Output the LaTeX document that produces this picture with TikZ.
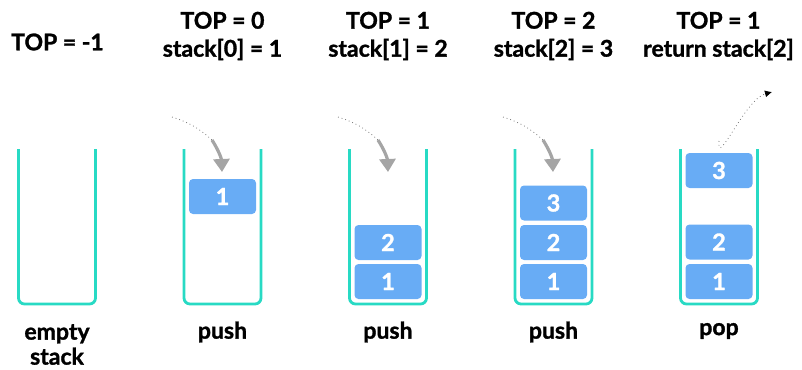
\documentclass[tikz,border=0pt]{standalone}
\usepackage{fontspec}
\setmainfont{Lato}[BoldFeatures={FakeBold=1.3}]
\usetikzlibrary{arrows.meta}
\definecolor{wallc}{RGB}{40,218,196}
\definecolor{boxc}{RGB}{104,172,245}
\definecolor{arrc}{RGB}{165,165,165}
\tikzset{
  wall/.style={draw=wallc, line width=2.8pt, rounded corners=6pt},
  item/.style={fill=boxc, draw=none, rounded corners=4pt, minimum width=67pt, minimum height=35pt, inner sep=0pt, text=white, font=\bfseries\fontsize{23.5}{23.5}\selectfont},
  lbl/.style={font=\bfseries\fontsize{23}{28}\selectfont, align=center, inner sep=0pt},
  lblb/.style={font=\bfseries\fontsize{23}{25}\selectfont, align=center, inner sep=0pt},
  dots/.style={draw=black!60, line width=0.7pt, dash pattern=on 0.8pt off 3pt},
  pusharr/.style={draw=arrc, line width=3.2pt, -{Triangle[length=13pt,width=16pt]}},
}
\begin{document}
\begin{tikzpicture}[x=1pt,y=-1pt]
\useasboundingbox (0,0) rectangle (802,369);
% stacks
\foreach \n/\x in {a/18.5,b/184,c/349.5,d/515,e/680.5}{
  \draw[wall] (\x,149) -- (\x,304) -- (\x+77,304) -- (\x+77,149);
}
% boxes
\node[item] (b1) at (222.5,196.5) {1};
\node[item] (c1) at (388,281.5) {1};
\node[item] (c2) at (388,242.5) {2};
\node[item] (d1) at (553.5,281.5) {1};
\node[item] (d2) at (553.5,242.5) {2};
\node[item] (d3) at (553.5,203) {3};
\node[item] (e1) at (719,281.5) {1};
\node[item] (e2) at (719,242) {2};
\node[item] (e3) at (719,170.5) {3};
% top labels
\node[lbl] (ta) at (57.5,42) {TOP = -1};
\node[lbl] (tb) at (222.5,36) {TOP = 0\\stack[0] = 1};
\node[lbl] (tc) at (388,36) {TOP = 1\\stack[1] = 2};
\node[lbl] (td) at (553.5,36) {TOP = 2\\stack[2] = 3};
\node[lbl] (te) at (718.5,36) {TOP = 1\\return stack[2]};
% bottom labels
\node[lblb] (ba) at (57,344.5) {empty\\stack};
\node[lblb] (bb) at (222.5,332) {push};
\node[lblb] (bc) at (388,332) {push};
\node[lblb] (bd) at (553.5,332) {push};
\node[lblb] (be) at (719,331) {pop};
% push arrows
\foreach \n/\dx in {b/0,c/166,d/331}{
  \coordinate (s\n) at (172+\dx,117);
  \coordinate (m\n) at (212+\dx,140);
  \coordinate (t\n) at (222+\dx,172);
  \draw[dots] (s\n) to[bend left=12] (m\n);
  \draw[pusharr] (m\n) to[bend left=15] (t\n);
}
% pop arrow
\coordinate (se) at (719,141);
\coordinate (te) at (772,92);
\draw[dots, -{Latex[length=7pt,width=7pt,black]}] (se) to[out=-95,in=195] (te);
\end{tikzpicture}
\end{document}
